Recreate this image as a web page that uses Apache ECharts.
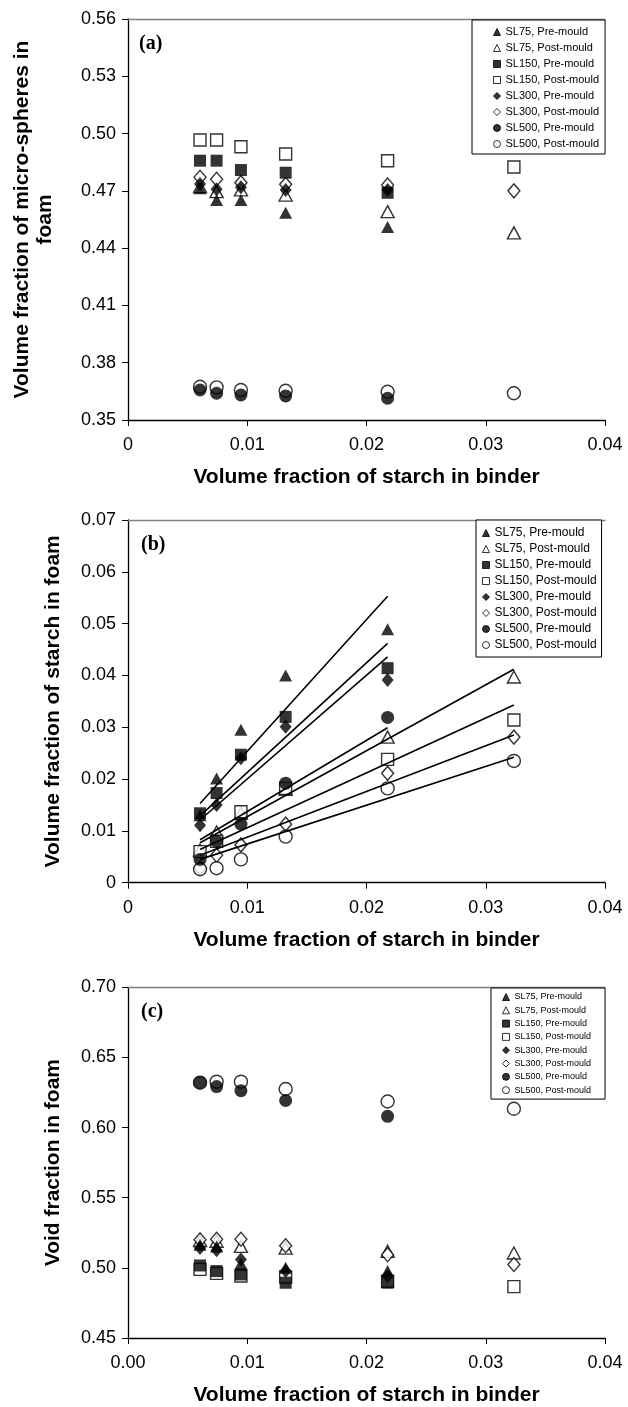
<!DOCTYPE html>
<html><head><meta charset="utf-8">
<script src="https://cdn.jsdelivr.net/npm/echarts@6/dist/echarts.min.js"></script>
<style>html,body{margin:0;padding:0;background:#fff}#c{width:628px;height:1407px}</style>
</head><body><div id="c"></div>
<script>
// x values: volume fraction of starch in binder (pre-mould uses first 5)
const xStarch = [0.00604, 0.00743, 0.00947, 0.01322, 0.02177, 0.03236];
const seriesNames = ['SL75, Pre-mould', 'SL75, Post-mould', 'SL150, Pre-mould', 'SL150, Post-mould',
  'SL300, Pre-mould', 'SL300, Post-mould', 'SL500, Pre-mould', 'SL500, Post-mould'];
const xTickLabelsAB = ['0', '0.01', '0.02', '0.03', '0.04'];
const xTickLabelsC = ['0.00', '0.01', '0.02', '0.03', '0.04'];

// Panel (a): volume fraction of micro-spheres in foam
const aSL75Pre   = [0.4713, 0.4652, 0.4652, 0.4586, 0.4511];
const aSL75Post  = [0.4722, 0.4696, 0.4705, 0.4678, 0.4591, 0.4480];
const aSL150Pre  = [0.4858, 0.4858, 0.4809, 0.4795, 0.4690];
const aSL150Post = [0.4966, 0.4966, 0.4931, 0.4893, 0.4858, 0.4825];
const aSL300Pre  = [0.4736, 0.4708, 0.4719, 0.4705, 0.4705];
const aSL300Post = [0.4771, 0.4761, 0.4743, 0.4734, 0.4731, 0.4700];
const aSL500Pre  = [0.3657, 0.3640, 0.3631, 0.3626, 0.3614];
const aSL500Post = [0.3674, 0.3671, 0.3657, 0.3653, 0.3648, 0.3640];

// Panel (b): volume fraction of starch in foam
const bSL75Pre   = [0.0130, 0.0201, 0.0295, 0.0400, 0.0489];
const bSL75Post  = [0.0063, 0.0098, 0.0134, 0.0180, 0.0281, 0.0397];
const bSL150Pre  = [0.0134, 0.0173, 0.0247, 0.0320, 0.0414];
const bSL150Post = [0.0060, 0.0080, 0.0137, 0.0182, 0.0238, 0.0314];
const bSL300Pre  = [0.0111, 0.0150, 0.0240, 0.0301, 0.0391];
const bSL300Post = [0.0028, 0.0053, 0.0073, 0.0113, 0.0211, 0.0281];
const bSL500Pre  = [0.0045, 0.0080, 0.0113, 0.0192, 0.0319];
const bSL500Post = [0.0026, 0.0028, 0.0045, 0.0089, 0.0182, 0.0235];

// Panel (b) trend lines: [start, end] values
const trendXPre  = [0.00604, 0.02177];
const trendXPost = [0.00604, 0.03236];
const tSL75Pre   = [0.0153, 0.0553];
const tSL150Pre  = [0.0129, 0.0462];
const tSL300Pre  = [0.0121, 0.0436];
const tSL500Pre  = [0.0083, 0.0299];
const tSL75Post  = [0.0077, 0.0412];
const tSL150Post = [0.0064, 0.0343];
const tSL300Post = [0.0053, 0.0285];
const tSL500Post = [0.0045, 0.0242];

// Panel (c): void fraction in foam
const cSL75Pre   = [0.5165, 0.5153, 0.5031, 0.5000, 0.4977];
const cSL75Post  = [0.5195, 0.5190, 0.5153, 0.5141, 0.5118, 0.5106];
const cSL150Pre  = [0.5017, 0.4977, 0.4953, 0.4894, 0.4894];
const cSL150Post = [0.4989, 0.4961, 0.4942, 0.4935, 0.4905, 0.4866];
const cSL300Pre  = [0.5141, 0.5125, 0.5059, 0.4977, 0.4942];
const cSL300Post = [0.5200, 0.5204, 0.5204, 0.5158, 0.5094, 0.5024];
const cSL500Pre  = [0.6322, 0.6292, 0.6263, 0.6193, 0.6080];
const cSL500Post = [0.6320, 0.6327, 0.6327, 0.6275, 0.6186, 0.6134];

const FONT = '"Liberation Sans", Arial, sans-serif';
const symbols = ['triangle', 'triangle', 'rect', 'rect', 'diamond', 'diamond', 'circle', 'circle'];
const symSizes = [[13, 12], [13, 12], 12, 12, [12, 14], [12, 14], 13, 13];
const panels = [
  [aSL75Pre, aSL75Post, aSL150Pre, aSL150Post, aSL300Pre, aSL300Post, aSL500Pre, aSL500Post],
  [bSL75Pre, bSL75Post, bSL150Pre, bSL150Post, bSL300Pre, bSL300Post, bSL500Pre, bSL500Post],
  [cSL75Pre, cSL75Post, cSL150Pre, cSL150Post, cSL300Pre, cSL300Post, cSL500Pre, cSL500Post]
];
const trends = [
  [trendXPre, tSL75Pre], [trendXPre, tSL150Pre], [trendXPre, tSL300Pre], [trendXPre, tSL500Pre],
  [trendXPost, tSL75Post], [trendXPost, tSL150Post], [trendXPost, tSL300Post], [trendXPost, tSL500Post]
];

const grids = [
  {left: 128, top: 19, width: 477, height: 401},
  {left: 128, top: 520, width: 477, height: 362.7},
  {left: 128, top: 987.3, width: 477, height: 355.4}
];

const series = [];
panels.forEach((arrs, g) => {
  // post-mould (open) first so that filled markers sit on top
  const order = [1, 3, 5, 7, 0, 2, 4, 6];
  order.forEach(k => {
    const open = k % 2 === 1;
    series.push({
      type: 'scatter', name: seriesNames[k], xAxisIndex: g, yAxisIndex: g,
      symbol: symbols[k], symbolSize: symSizes[k],
      itemStyle: open ? {color: '#fff', borderColor: '#000', borderWidth: 1.4}
                      : {color: '#000', borderColor: '#000', borderWidth: 0},
      emphasis: {disabled: true},
      data: arrs[k].map((v, i) => [xStarch[i], v])
    });
  });
});
trends.forEach(([xs, ys]) => {
  series.push({
    type: 'line', xAxisIndex: 1, yAxisIndex: 1, symbol: 'none', silent: true, z: 3,
    lineStyle: {color: '#000', width: 1.6},
    data: xs.map((x, i) => [x, ys[i]])
  });
});

function xAxisFor(g, labels) {
  return {
    type: 'value', gridIndex: g, min: 0, max: 0.04, interval: 0.01,
    name: 'Volume fraction of starch in binder', nameLocation: 'middle', nameGap: 47,
    nameTextStyle: {fontFamily: FONT, fontSize: 21, fontWeight: 'bold', color: '#000', lineHeight: 21},
    axisLine: {lineStyle: {color: '#000', width: 1.3}},
    axisTick: {length: 6, lineStyle: {color: '#000', width: 1}},
    axisLabel: {margin: 16, fontFamily: FONT, fontSize: 18, color: '#000', lineHeight: 18,
      formatter: (v) => labels[Math.round(v / 0.01)]},
    splitLine: {show: false}
  };
}
function topAxis(g) {
  return {type: 'value', gridIndex: g, position: 'top', min: 0, max: 0.04,
    axisLine: {show: true, lineStyle: {color: '#808080', width: 1.3}},
    axisTick: {show: false}, axisLabel: {show: false}, splitLine: {show: false}};
}
function yAxisFor(g, min, max, interval, digits, name, gap) {
  return {
    type: 'value', gridIndex: g, min: min, max: max, interval: interval,
    name: name, nameLocation: 'middle', nameGap: gap, nameRotate: 90,
    nameTextStyle: {fontFamily: FONT, fontSize: 21, fontWeight: 'bold', color: '#000', lineHeight: 23, align: 'center'},
    axisLine: {show: true, lineStyle: {color: '#000', width: 1.3}},
    axisTick: {show: true, length: 6, lineStyle: {color: '#000', width: 1}},
    axisLabel: {margin: 12, fontFamily: FONT, fontSize: 18, color: '#000',
      formatter: (v) => (digits === 0 && Math.abs(v) < 1e-9) ? '0' : v.toFixed(2)},
    splitLine: {show: false}
  };
}
function legendFor(left, top, fontSize, lineHeight, gap, padding) {
  return {
    orient: 'vertical', left: left, top: top, data: seriesNames.slice(),
    itemWidth: 7, itemHeight: 7, itemGap: gap, padding: padding,
    backgroundColor: '#fff', borderColor: '#000', borderWidth: 1, borderRadius: 0,
    selectedMode: false,
    itemStyle: {borderWidth: 1},
    textStyle: {fontFamily: FONT, fontSize: fontSize, color: '#000', lineHeight: lineHeight}
  };
}

const option = {
  animation: false,
  backgroundColor: '#fff',
  grid: grids,
  xAxis: [xAxisFor(0, xTickLabelsAB), xAxisFor(1, xTickLabelsAB), xAxisFor(2, xTickLabelsC),
          topAxis(0), topAxis(1), topAxis(2)],
  yAxis: [
    yAxisFor(0, 0.35, 0.56, 0.03, 2, 'Volume fraction of micro-spheres in\nfoam', 71),
    yAxisFor(1, 0, 0.07, 0.01, 0, 'Volume fraction of starch in foam', 63),
    yAxisFor(2, 0.45, 0.70, 0.05, 2, 'Void fraction in foam', 63)
  ],
  legend: [
    legendFor(472, 20, 11, 12, 4, [6, 6, 4, 21]),
    legendFor(476, 520, 12, 12, 4, [7, 5, 6, 6]),
    legendFor(491, 988, 9, 10, 3.3, [4, 14, 4, 11])
  ],
  graphic: [
    {type: 'text', left: 139, top: 34, style: {text: '(a)', font: 'bold 20px "Liberation Serif", serif', fill: '#000'}},
    {type: 'text', left: 141, top: 535, style: {text: '(b)', font: 'bold 20px "Liberation Serif", serif', fill: '#000'}},
    {type: 'text', left: 141, top: 1002, style: {text: '(c)', font: 'bold 20px "Liberation Serif", serif', fill: '#000'}}
  ],
  series: series
};
const chart = echarts.init(document.getElementById('c'), null, {renderer: 'canvas'});
chart.setOption(option);
</script></body></html>
